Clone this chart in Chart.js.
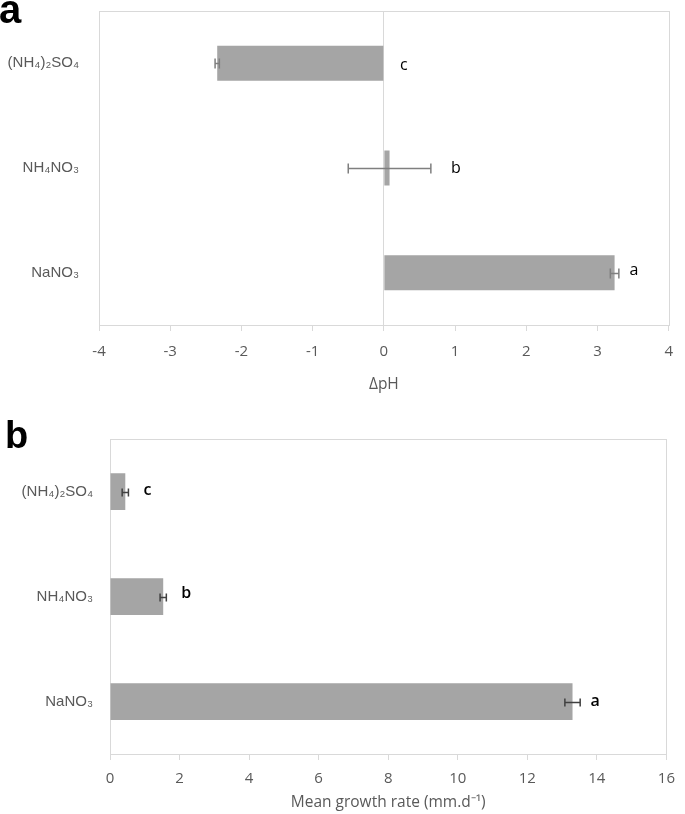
<!DOCTYPE html>
<html><head><meta charset="utf-8">
<script src="https://cdn.jsdelivr.net/npm/chart.js@4.4.1/dist/chart.umd.min.js"></script>
<style>
html,body{margin:0;padding:0;background:#fff;}
#wrap{position:relative;width:685px;height:814px;overflow:hidden;background:#fff;}
.cv{position:absolute;left:0;}
.panel{position:absolute;font-family:'Liberation Sans',Arial,sans-serif;font-weight:bold;color:#000;line-height:1;}
</style></head><body>
<div id="wrap">
<div class="cv" style="top:0;width:685px;height:400px;"><canvas id="c1"></canvas></div>
<div class="cv" style="top:400px;width:685px;height:414px;"><canvas id="c2"></canvas></div>
<div class="panel" style="left:-1px;top:-11px;font-size:40px;">a</div>
<div class="panel" style="left:5px;top:416px;font-size:38px;">b</div>
</div>
<script>
// ---- data ----
const categories = ['(NH₄)₂SO₄', 'NH₄NO₃', 'NaNO₃'];
const deltaPH = [-2.34, 0.08, 3.24];
const deltaPHErr = [0.03, 0.58, 0.06];
const deltaPHLetters = ['c', 'b', 'a'];
const growthRate = [0.44, 1.53, 13.30];
const growthRateErr = [0.09, 0.09, 0.22];
const growthLetters = ['c', 'b', 'a'];
const phTicks = [-4, -3, -2, -1, 0, 1, 2, 3, 4];
const growthTicks = [0, 2, 4, 6, 8, 10, 12, 14, 16];

const GRID = '#d9d9d9';
const TXT = '#595959';
const BAR = '#a5a5a5';

const framePlugin = {
  id: 'frame',
  beforeDatasetsDraw(chart) {
    const a = chart.chartArea, ctx = chart.ctx;
    ctx.save();
    ctx.strokeStyle = GRID; ctx.lineWidth = 1;
    ctx.strokeRect(Math.round(a.left) + 0.5, Math.round(a.top) + 0.5,
      Math.round(a.right - a.left), Math.round(a.bottom - a.top));
    ctx.restore();
  }
};

const errPlugin = {
  id: 'errbars',
  afterDatasetsDraw(chart, args, o) {
    const ctx = chart.ctx, xs = chart.scales.x;
    const meta = chart.getDatasetMeta(0), vals = chart.data.datasets[0].data;
    ctx.save();
    meta.data.forEach((bar, i) => {
      const v = vals[i], e = o.errors[i], y = Math.round(bar.y) + 0.5;
      const x1 = xs.getPixelForValue(v - e), x2 = xs.getPixelForValue(v + e);
      ctx.strokeStyle = o.color; ctx.lineWidth = o.width;
      ctx.beginPath();
      ctx.moveTo(x1, y); ctx.lineTo(x2, y);
      ctx.moveTo(x1, y - o.cap); ctx.lineTo(x1, y + o.cap);
      ctx.moveTo(x2, y - o.cap); ctx.lineTo(x2, y + o.cap);
      ctx.stroke();
      const anchor = xs.getPixelForValue(Math.max(0, v + e));
      ctx.fillStyle = '#000';
      ctx.font = o.letterFont;
      ctx.textAlign = 'center'; ctx.textBaseline = 'middle';
      ctx.fillText(o.letters[i], anchor + o.letterOffsets[i], bar.y + o.letterDy[i]);
    });
    ctx.restore();
  }
};

Chart.defaults.font.family = "'Open Sans', sans-serif";

const fitY = w => s => { s.width = w; s.paddingTop = 0; s.paddingBottom = 0; };

new Chart(document.getElementById('c1'), {
  type: 'bar',
  data: { labels: categories, datasets: [{ data: deltaPH, backgroundColor: BAR, borderWidth: 0, barPercentage: 0.334, categoryPercentage: 1 }] },
  options: {
    indexAxis: 'y', responsive: true, maintainAspectRatio: false, animation: false,
    layout: { padding: { top: 11, right: 15, left: 0, bottom: 0 } },
    plugins: {
      legend: { display: false }, tooltip: { enabled: false },
      errbars: { errors: deltaPHErr, letters: deltaPHLetters, color: '#7f7f7f', width: 1.5, cap: 5,
        letterFont: "16px 'Open Sans'", letterOffsets: [20, 25, 15], letterDy: [2, 0, -2] }
    },
    scales: {
      x: {
        min: -4, max: 4,
        afterBuildTicks: s => { s.ticks = phTicks.map(v => ({ value: v })); },
        ticks: { color: TXT, font: { size: 15 }, padding: 12 },
        grid: { color: c => (c.tick && c.tick.value === 0) ? GRID : 'rgba(0,0,0,0)', tickColor: GRID, tickLength: 6, lineWidth: 1 },
        border: { display: false },
        title: { display: true, text: 'ΔpH', color: TXT, font: { size: 15.5 }, padding: { top: 0, bottom: 6 } },
        afterFit: s => { s.height = 75; }
      },
      y: {
        ticks: { color: TXT, font: { family: "'Liberation Sans Narrow', 'Liberation Sans', sans-serif", size: 15 }, padding: 12 },
        grid: { display: false }, border: { display: false },
        afterFit: fitY(99)
      }
    }
  },
  plugins: [framePlugin, errPlugin]
});

new Chart(document.getElementById('c2'), {
  type: 'bar',
  data: { labels: categories, datasets: [{ data: growthRate, backgroundColor: BAR, borderWidth: 0, barPercentage: 0.35, categoryPercentage: 1 }] },
  options: {
    indexAxis: 'y', responsive: true, maintainAspectRatio: false, animation: false,
    layout: { padding: { top: 39, right: 12, left: 0, bottom: 0 } },
    plugins: {
      legend: { display: false }, tooltip: { enabled: false },
      errbars: { errors: growthRateErr, letters: growthLetters, color: '#404040', width: 1.5, cap: 4,
        letterFont: "600 16px 'Open Sans'", letterOffsets: [19, 20, 15], letterDy: [-1, -3, 0] }
    },
    scales: {
      x: {
        min: 0, max: 16,
        afterBuildTicks: s => { s.ticks = growthTicks.map(v => ({ value: v })); },
        ticks: { color: TXT, font: { size: 15 }, padding: 10 },
        grid: { color: 'rgba(0,0,0,0)', tickColor: GRID, tickLength: 6, lineWidth: 1 },
        border: { display: false },
        title: { display: true, text: 'Mean growth rate (mm.d⁻¹)', color: TXT, font: { size: 15.5 }, padding: { top: 0, bottom: 2 } },
        afterFit: s => { s.height = 60; }
      },
      y: {
        ticks: { color: TXT, font: { family: "'Liberation Sans Narrow', 'Liberation Sans', sans-serif", size: 15 }, padding: 9 },
        grid: { display: false }, border: { display: false },
        afterFit: fitY(110)
      }
    }
  },
  plugins: [framePlugin, errPlugin]
});
</script>
</body></html>
